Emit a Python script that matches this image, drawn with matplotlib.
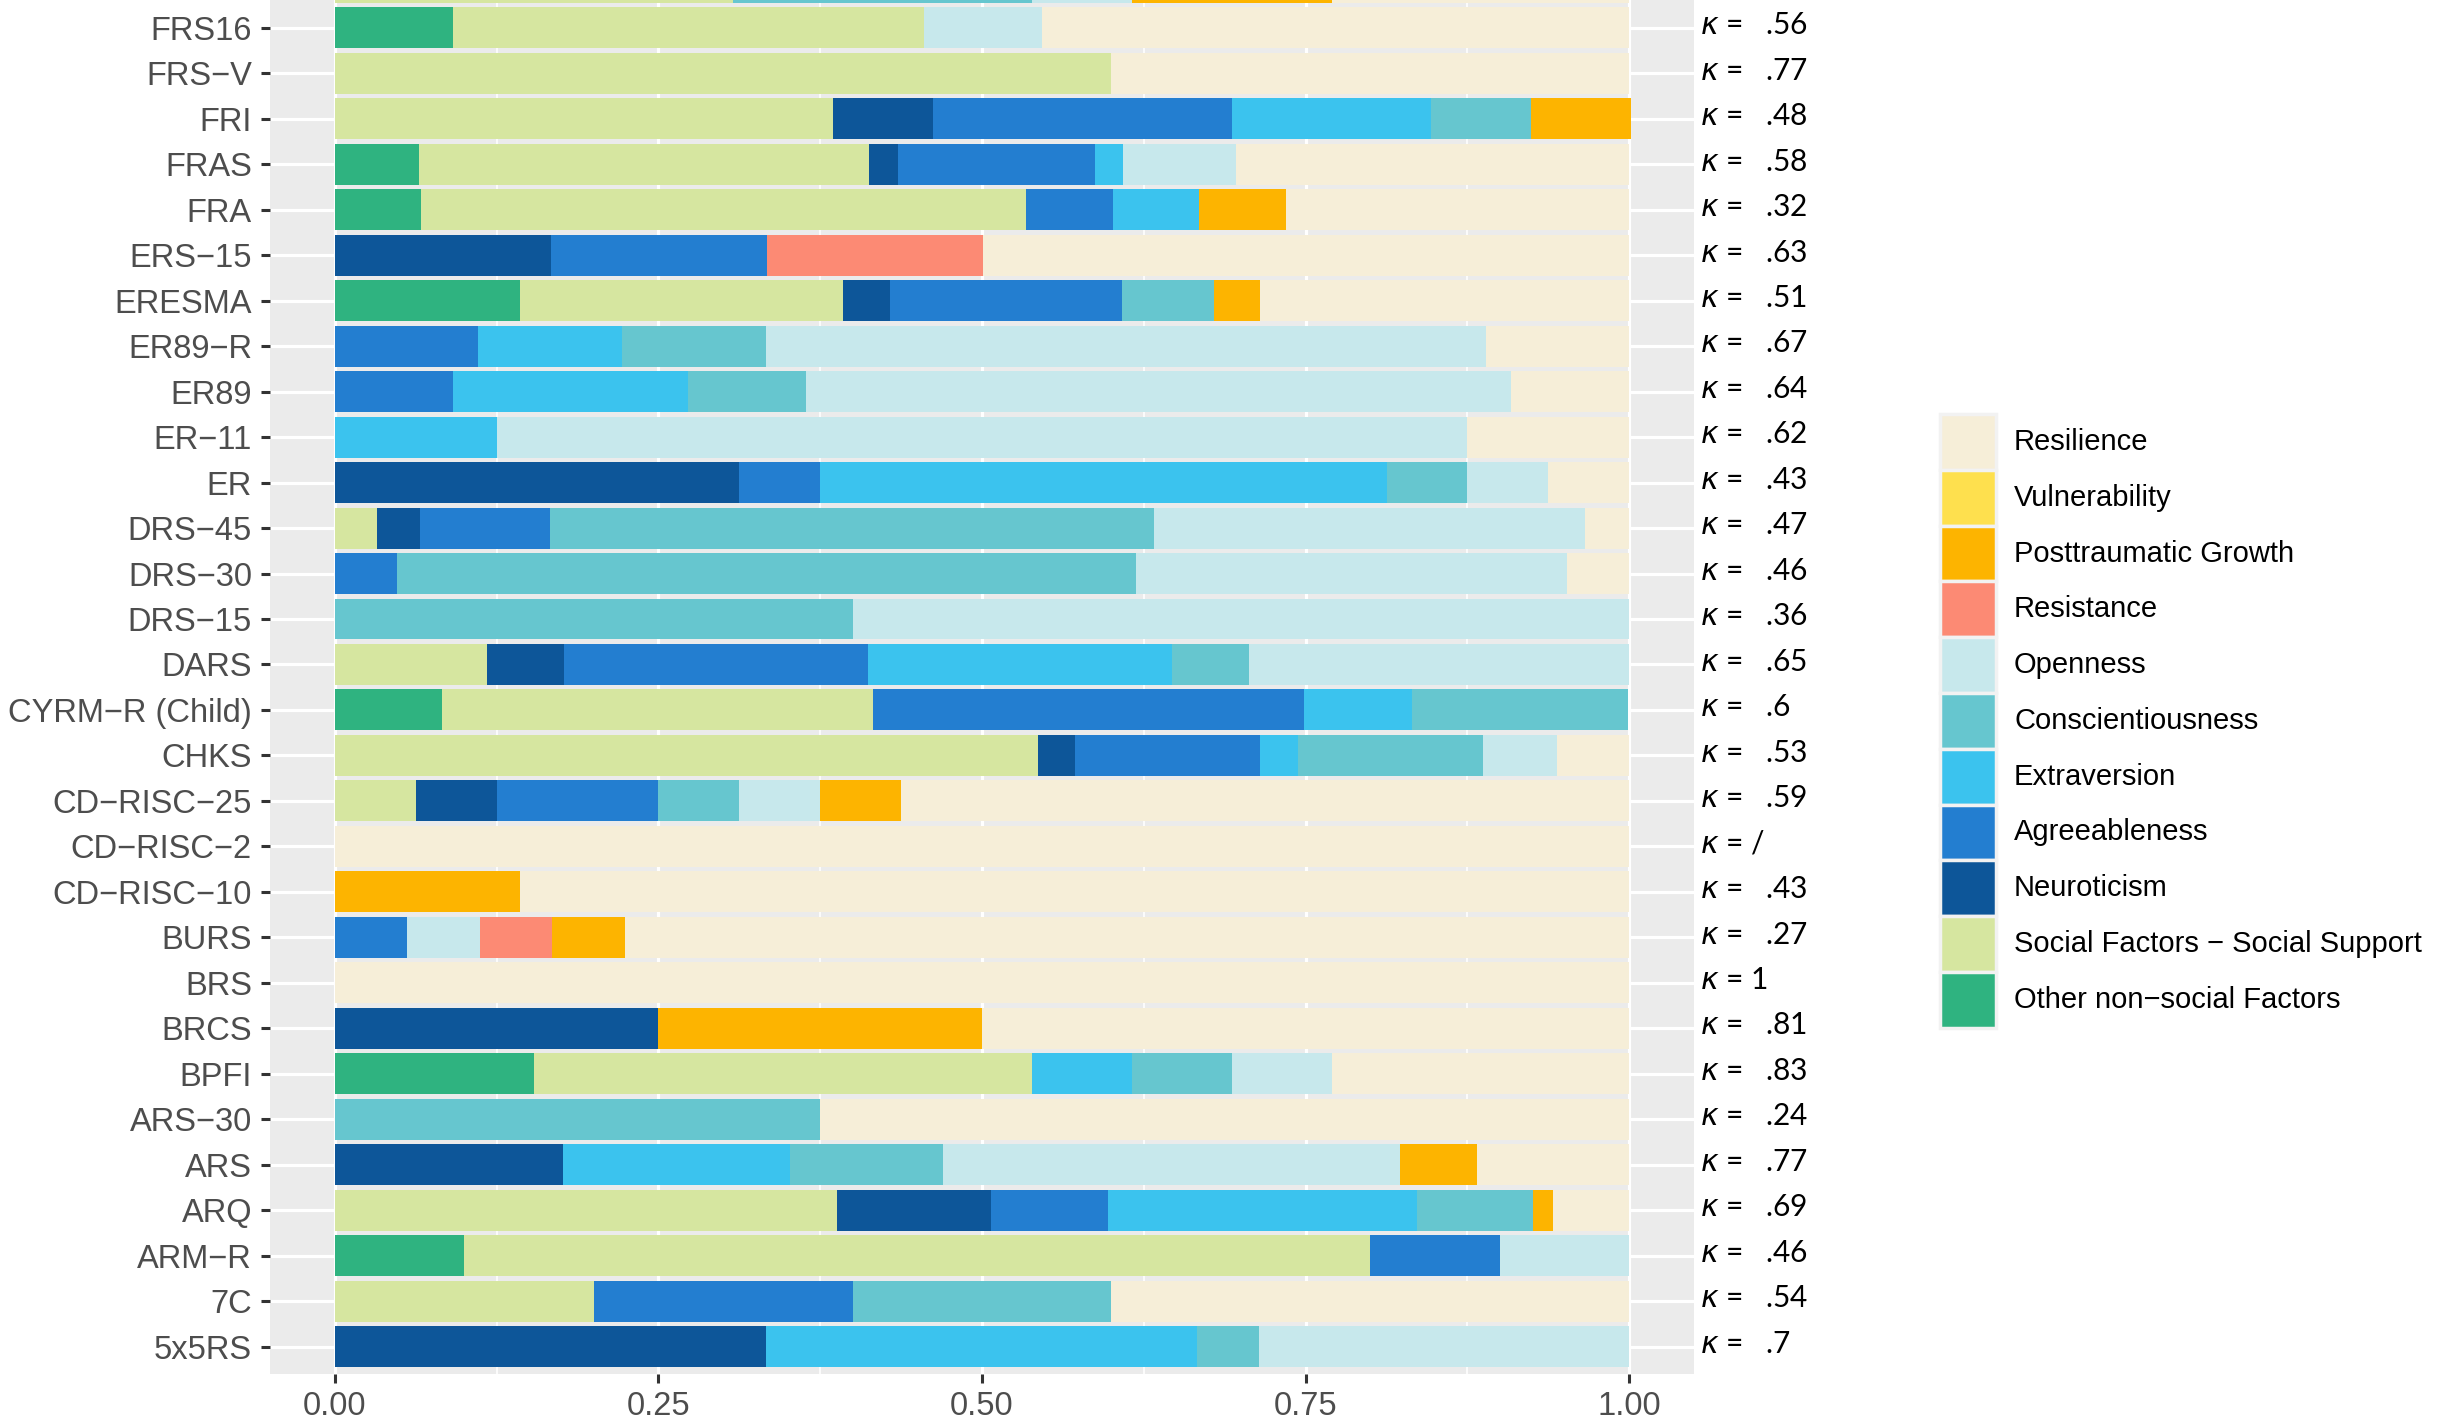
import matplotlib
matplotlib.use("Agg")
import matplotlib.pyplot as plt
from matplotlib.patches import Rectangle
import numpy as np

plt.rcParams['font.family'] = ['Liberation Sans', 'DejaVu Sans']

# scales, bottom to top (last one is cut off by the top edge in the reference)
scales = ["5x5RS", "7C", "ARM\u2212R", "ARQ", "ARS", "ARS\u221230", "BPFI", "BRCS",
          "BRS", "BURS", "CD\u2212RISC\u221210", "CD\u2212RISC\u22122",
          "CD\u2212RISC\u221225", "CHKS", "CYRM\u2212R (Child)", "DARS",
          "DRS\u221215", "DRS\u221230", "DRS\u221245", "ER", "ER\u221211", "ER89",
          "ER89\u2212R", "ERESMA", "ERS\u221215", "FRA", "FRAS", "FRI", "FRS\u2212V",
          "FRS16", ""]

kappa = [".7", ".54", ".46", ".69", ".77", ".24", ".83", ".81", "1", ".27", ".43",
         "/", ".59", ".53", ".6", ".65", ".36", ".46", ".47", ".43", ".62", ".64",
         ".67", ".51", ".63", ".32", ".58", ".48", ".77", ".56", ""]

# proportion of items mapped to each construct (one value per scale above)
other_nonsocial = [0, 0, .1, 0, 0, 0, .154, 0, 0, 0, 0, 0, 0, 0, .083, 0, 0, 0, 0,
                   0, 0, 0, 0, .143, 0, .067, .065, 0, 0, .091, 0]
social_support = [0, .2, .7, .388, 0, 0, .385, 0, 0, 0, 0, 0, .0625, .543, .333, .118,
                  0, 0, .033, 0, 0, 0, 0, .25, 0, .467, .348, .385, .6, .364, .308]
neuroticism = [.333, 0, 0, .119, .176, 0, 0, .25, 0, 0, 0, 0, .0625, .029, 0, .059,
               0, 0, .033, .3125, 0, 0, 0, .036, .167, 0, .022, .077, 0, 0, 0]
agreeableness = [0, .2, .1, .09, 0, 0, 0, 0, 0, .056, 0, 0, .125, .143, .333, .235,
                 0, .048, .1, .0625, 0, .091, .111, .179, .167, .067, .152, .231, 0, 0, 0]
extraversion = [.333, 0, 0, .239, .176, 0, .077, 0, 0, 0, 0, 0, 0, .029, .083, .235,
                0, 0, 0, .4375, .125, .182, .111, 0, 0, .067, .022, .154, 0, 0, 0]
conscientiousness = [.048, .2, 0, .09, .118, .375, .077, 0, 0, 0, 0, 0, .0625, .143,
                     .167, .059, .4, .571, .467, .0625, 0, .091, .111, .071, 0, 0, 0,
                     .077, 0, 0, .231]
openness = [.286, 0, .1, 0, .353, 0, .077, 0, 0, .056, 0, 0, .0625, .057, 0, .294,
            .6, .333, .333, .0625, .75, .545, .556, 0, 0, 0, .087, 0, 0, .091, .077]
resistance = [0, 0, 0, 0, 0, 0, 0, 0, 0, .056, 0, 0, 0, 0, 0, 0, 0, 0, 0, 0, 0, 0,
              0, 0, .167, 0, 0, 0, 0, 0, 0]
posttraumatic_growth = [0, 0, 0, .015, .059, 0, 0, .25, 0, .056, .143, 0, .0625, 0, 0,
                        0, 0, 0, 0, 0, 0, 0, 0, .036, 0, .067, 0, .077, 0, 0, .154]
vulnerability = [0] * 31
resilience = [0, .4, 0, .059, .118, .625, .23, .5, 1, .776, .857, 1, .5625, .056, 0, 0,
              0, .048, .034, .0625, .125, .091, .111, .285, .499, .265, .304, 0, .4,
              .454, .23]

constructs = ["Other non\u2212social Factors", "Social Factors \u2212 Social Support",
              "Neuroticism", "Agreeableness", "Extraversion", "Conscientiousness",
              "Openness", "Resistance", "Posttraumatic Growth", "Vulnerability",
              "Resilience"]
values = [other_nonsocial, social_support, neuroticism, agreeableness, extraversion,
          conscientiousness, openness, resistance, posttraumatic_growth, vulnerability,
          resilience]
colors = ["#2FB380", "#D6E6A0", "#0D5699", "#237ED0", "#3BC3EE", "#66C6CF",
          "#C7E8EC", "#FC8A74", "#FDB400", "#FEE04E", "#F6EED8"]

W, H = 2458, 1422
fig = plt.figure(figsize=(W / 100, H / 100), dpi=100)

# panel placement in pixels (the top of the panel runs off the figure, as in the reference)
row_px = 45.47
px_bottom = 1373.8
n = len(scales)
panel_h = (n - 1 + 1.2) * row_px
ax = fig.add_axes([270 / W, (H - px_bottom) / H, (1694 - 270) / W, panel_h / H])
ax.set_facecolor("#EBEBEB")

y = np.arange(n)
left = np.zeros(n)
for name, vals, col in zip(constructs, values, colors):
    vals = np.array(vals, dtype=float)
    ax.barh(y, vals, left=left, height=0.9, color=col, linewidth=0, zorder=2)
    left += vals

ax.set_xlim(-0.05, 1.05)
ax.set_ylim(-0.6, n - 1 + 0.6)
ax.set_xticks([0, .25, .5, .75, 1])
ax.set_xticklabels(["0.00", "0.25", "0.50", "0.75", "1.00"])
ax.set_xticks([.125, .375, .625, .875], minor=True)
ax.set_yticks(y)
ax.set_yticklabels(scales)
ax.grid(True, which="major", color="white", linewidth=2.3, zorder=0)
ax.grid(True, which="minor", axis="x", color="white", linewidth=1.2, zorder=0)
ax.set_axisbelow(True)
for s in ax.spines.values():
    s.set_visible(False)
ax.tick_params(axis="both", which="major", length=6.5, width=2.2, color="#333333",
               labelsize=23.5, labelcolor="#4D4D4D")
ax.tick_params(axis="y", pad=6.5)
ax.tick_params(axis="x", pad=6)
ax.tick_params(which="minor", length=0)

# kappa labels to the right of the panel
for yi, k in zip(y, kappa):
    if not k:
        continue
    if k in ("/", "1"):
        s = r"$\kappa$ = " + k
    else:
        s = r"$\kappa$ =   " + k
    ax.text(1.0045, yi + 0.06, s, transform=ax.get_yaxis_transform(), ha="left",
            va="center", fontsize=21.5, color="black", family=["Lato", "DejaVu Sans"],
            clip_on=False)

# legend drawn by hand, top entry = Resilience
key = 55.8
key_x, key_top = 1940, 414
for i, (lab, col) in enumerate(zip(constructs[::-1], colors[::-1])):
    top = key_top + i * key
    fig.add_artist(Rectangle((key_x / W, 1 - (top + key) / H), key / W, key / H,
                             transform=fig.transFigure, facecolor=col,
                             edgecolor="#F2F2F2", linewidth=2.5))
    fig.text(2014 / W, 1 - (top + key / 2) / H, lab, ha="left", va="center",
             fontsize=21, color="black")

fig.savefig("out.png", dpi=100)
